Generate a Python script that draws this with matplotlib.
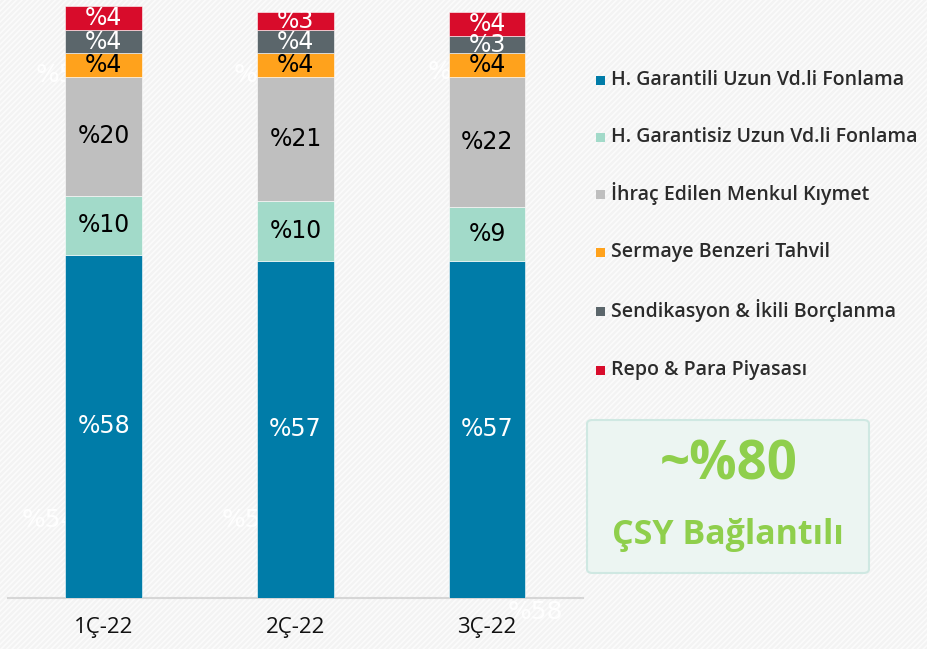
import matplotlib.pyplot as plt
from matplotlib.patches import Rectangle, FancyBboxPatch

# data (bottom -> top)
quarters = ['1Ç-22', '2Ç-22', '3Ç-22']
series_names = [
    'H. Garantili Uzun Vd.li Fonlama',
    'H. Garantisiz Uzun Vd.li Fonlama',
    'İhraç Edilen Menkul Kıymet',
    'Sermaye Benzeri Tahvil',
    'Sendikasyon & İkili Borçlanma',
    'Repo & Para Piyasası',
]
garantili = [58, 57, 57]
garantisiz = [10, 10, 9]
ihrac = [20, 21, 22]
sermaye = [4, 4, 4]
sendikasyon = [4, 4, 3]
repo = [4, 3, 4]
series_values = [garantili, garantisiz, ihrac, sermaye, sendikasyon, repo]

colors = ['#007ca8', '#a2dac9', '#bfbfbf', '#ffa21c', '#5b666b', '#d80c2b']
label_colors = ['white', 'black', 'black', 'black', 'white', 'white']

plt.rcParams['hatch.linewidth'] = 1.2

fig = plt.figure(figsize=(9.28, 6.49), dpi=100)
fig.patch.set_facecolor('#f3f3f3')
fig.patches.append(Rectangle((0, 0), 1, 1, transform=fig.transFigure, facecolor='none',
                             edgecolor='#fbfbfb', hatch='//////', lw=0, zorder=-10))

ax = fig.add_axes([0.0086, 0.0786, 0.6196, 0.912])
ax.set_facecolor('none')

x = list(range(len(quarters)))
bottom = [0, 0, 0]
for vals, col, lc in zip(series_values, colors, label_colors):
    ax.bar(x, vals, width=0.40, bottom=bottom, color=col, edgecolor='white', linewidth=0.4, zorder=3)
    for i, v in enumerate(vals):
        ax.text(x[i], bottom[i] + v / 2, '%' + str(v), ha='center', va='center',
                color=lc, fontsize=17, family='DejaVu Sans', zorder=4)
    bottom = [b + v for b, v in zip(bottom, vals)]

# faint leftover labels in the background
ghosts = [(-0.354, 88.3, '%54'), (0.679, 88.3, '%54'), (1.691, 88.9, '%54'),
          (-0.427, 13.2, '%54'), (0.616, 13.2, '%54'), (2.108, -2.4, '%58')]
for gx, gy, gt in ghosts:
    ax.text(gx, gy, gt, ha='left', va='center', color='white', alpha=0.95,
            fontsize=18, family='DejaVu Sans', zorder=1, clip_on=False)

ax.set_xlim(-0.5, 2.5)
ax.set_ylim(0, 100)
ax.set_xticks(x)
ax.set_xticklabels(quarters, fontsize=16, family='Open Sans', color='#111111')
ax.tick_params(axis='x', length=0, pad=14)
ax.set_yticks([])
for s in ['left', 'right', 'top']:
    ax.spines[s].set_visible(False)
ax.spines['bottom'].set_color('#d6d6d6')
ax.spines['bottom'].set_linewidth(1.5)

# legend
leg_y = [80, 137, 194, 252, 311, 370]
for name, col, py in zip(series_names, colors, leg_y):
    yf = 1 - py / 649
    fig.patches.append(Rectangle((596 / 928, yf - 4.5 / 649), 9 / 928, 9 / 649,
                                 transform=fig.transFigure, facecolor=col, lw=0))
    fig.text(611 / 928, yf, name, ha='left', va='center', fontsize=14,
             family='Open Sans', fontweight='semibold', color='#2b2b2b')

# highlight box
fig.patches.append(FancyBboxPatch((587 / 928, 76 / 649), 282 / 928, 153 / 649,
                                  boxstyle='round,pad=0,rounding_size=0.006',
                                  transform=fig.transFigure, facecolor='#ecf5f2',
                                  edgecolor='#cfe8e2', lw=1.5))
fig.text(729 / 928, 1 - 465 / 649, '~%80', ha='center', va='center', fontsize=38,
         fontweight='bold', family='Open Sans', color='#8fcf4c')
fig.text(728 / 928, 1 - 535 / 649, 'ÇSY Bağlantılı', ha='center', va='center', fontsize=24.5,
         fontweight='bold', family='Open Sans', color='#8fcf4c')

fig.savefig('out.png', dpi=100, facecolor=fig.get_facecolor())
